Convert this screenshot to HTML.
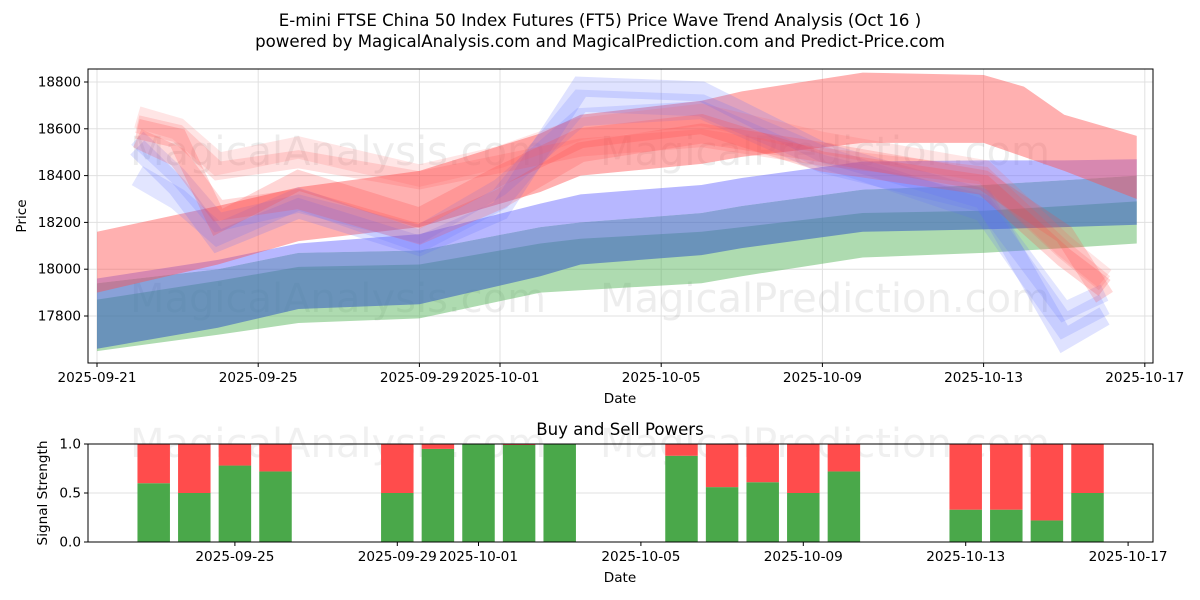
<!DOCTYPE html>
<html><head><meta charset="utf-8"><style>
body{margin:0;background:#fff;font-family:"DejaVu Sans","Liberation Sans",sans-serif;}
svg{display:block}
</style></head><body>
<svg id="c" width="1200" height="600" viewBox="0 0 1200 600" xmlns="http://www.w3.org/2000/svg">
<text x="600" y="26" text-anchor="middle" font-size="16.6" fill="#000">E-mini FTSE China 50 Index Futures (FT5) Price Wave Trend Analysis (Oct 16 )</text>
<text x="600" y="47" text-anchor="middle" font-size="16.6" fill="#000">powered by MagicalAnalysis.com and MagicalPrediction.com and Predict-Price.com</text>
<g id="main"></g>
<g id="sub"></g>
</svg>
<script>
// ---- data ----
const bandDates = ["09-21","09-24","09-26","09-29","10-02","10-03","10-06","10-07","10-10","10-13","10-14","10-15","10-16.8"];
const greenLow  = [17650,17720,17770,17790,17900,17910,17940,17970,18050,18070,18080,18090,18110];
const greenHigh = [17870,17950,18010,18020,18110,18130,18160,18180,18240,18250,18260,18270,18290];
const blueLow   = [17660,17750,17830,17850,17970,18020,18060,18090,18160,18170,18175,18180,18190];
const blueHigh  = [17940,18000,18070,18080,18180,18200,18240,18270,18340,18360,18370,18380,18400];
const lblueHigh = [17960,18040,18110,18150,18280,18320,18360,18390,18460,18465,18465,18465,18470];
const redLow    = [17900,18020,18120,18180,18330,18400,18450,18480,18540,18540,18480,18420,18300];
const redHigh   = [18160,18270,18350,18420,18580,18660,18720,18760,18840,18830,18780,18660,18570];
const waveDates = ["09-22","09-23","09-24","09-26","09-29","10-01","10-03","10-06","10-09","10-13","10-15","10-16"];
const redWave1  = [18600,18560,18200,18380,18220,18400,18560,18620,18460,18360,18050,17920];
const redWave2  = [18650,18600,18450,18520,18400,18480,18600,18660,18540,18420,18100,17960];
const redWave3  = [18560,18480,18250,18300,18150,18300,18500,18580,18500,18380,18150,17880];
const redWave4  = [18620,18580,18420,18470,18380,18450,18520,18560,18480,18400,18080,17940];
const blueWave1 = [18520,18350,18120,18260,18100,18250,18780,18760,18500,18300,17700,17800];
const blueWave2 = [18400,18300,18150,18300,18120,18300,18720,18700,18480,18250,17760,17850];
const blueWave3 = [18560,18400,18200,18280,18150,18350,18650,18680,18450,18280,17820,17900];
const barDates  = ["09-23","09-24","09-25","09-26","09-29","09-30","10-01","10-02","10-03","10-06","10-07","10-08","10-09","10-10","10-13","10-14","10-15","10-16"];
const buyPower  = [0.6,0.5,0.78,0.72,0.5,0.95,1.0,0.99,1.0,0.88,0.56,0.61,0.5,0.72,0.33,0.33,0.22,0.5];
const yTicks = [17800,18000,18200,18400,18600,18800];
const xTickLabels = ["2025-09-21","2025-09-25","2025-09-29","2025-10-01","2025-10-05","2025-10-09","2025-10-13","2025-10-17"];
const subYTicks = [0.0,0.5,1.0];

const NS="http://www.w3.org/2000/svg";
function mk(t,a,p){const e=document.createElementNS(NS,t);for(const k in a)e.setAttribute(k,a[k]);p.appendChild(e);return e;}
function dayNum(s){s=s.replace(/^2025-/,'');const [m,d]=s.split('-');return (m==="09"?0:30)+parseFloat(d)-21;}
const L=88,R=1153,T=69,B=363;
const xM=d=>97+dayNum(d)*40.3;
const yM=v=>316-(v-17800)*0.234;
const ST=444,SB=542;
const xS=d=>72.5+dayNum(d)*40.6;
const yS=v=>SB-v*(SB-ST);
const main=document.getElementById('main'), sub=document.getElementById('sub');
const FS=13.6;

yTicks.forEach(v=>{let g=mk('line',{x1:L,x2:R,y1:yM(v),y2:yM(v),stroke:'#e0e0e0','stroke-width':1},main);});
xTickLabels.forEach(s=>{let g=mk('line',{x1:xM(s),x2:xM(s),y1:T,y2:B,stroke:'#e0e0e0','stroke-width':1},main);});

[[130,165,"MagicalAnalysis.com"],[600,165,"MagicalPrediction.com"],[130,312,"MagicalAnalysis.com"],[600,312,"MagicalPrediction.com"]].forEach(w=>{let t=mk('text',{x:w[0],y:w[1],'font-size':40,fill:'#000','fill-opacity':0.07},main);t.textContent=w[2];});

function band(lo,hi,fill,op,name){
  let pts=bandDates.map((d,i)=>xM(d)+','+yM(hi[i]));
  for(let i=bandDates.length-1;i>=0;i--)pts.push(xM(bandDates[i])+','+yM(lo[i]));
  let p=mk('polygon',{points:pts.join(' '),fill:fill,'fill-opacity':op},main);
  
}
band(greenLow,greenHigh,'#4caf50',0.45,'green-band');
band(blueHigh,lblueHigh,'#7070ff',0.5,'light-blue-band');
band(blueLow,blueHigh,'#4068c0',0.62,'blue-band');
band(redLow,redHigh,'#ff5050',0.45,'red-band');

function wave(vals,col,op,w,name){
  let p=mk('polyline',{points:waveDates.map((d,i)=>xM(d)+','+yM(vals[i])).join(' '),fill:'none',stroke:col,'stroke-opacity':op,'stroke-width':w,'stroke-linejoin':'miter'},main);
  
}
wave(blueWave1,'#6070ff',0.2,20,'blue-wave');
wave(blueWave2,'#6070ff',0.18,22,'blue-wave');
wave(blueWave3,'#6070ff',0.18,18,'blue-wave');
wave(redWave1,'#ff4040',0.22,20,'red-wave');
wave(redWave2,'#ff6060',0.16,22,'red-wave');
wave(redWave3,'#ff4040',0.2,20,'red-wave');
wave(redWave4,'#ff5050',0.18,18,'red-wave');

let f=mk('rect',{x:L,y:T,width:R-L,height:B-T,fill:'none',stroke:'#000','stroke-width':1},main);
yTicks.forEach(v=>{mk('line',{x1:L-4,x2:L,y1:yM(v),y2:yM(v),stroke:'#000'},main);let t=mk('text',{x:L-7,y:yM(v)+4.5,'text-anchor':'end','font-size':FS},main);t.textContent=v;});
xTickLabels.forEach(s=>{mk('line',{x1:xM(s),x2:xM(s),y1:B,y2:B+4,stroke:'#000'},main);let t=mk('text',{x:xM(s),y:B+19,'text-anchor':'middle','font-size':FS},main);t.textContent=s;});
let xl=mk('text',{x:620,y:403,'text-anchor':'middle','font-size':FS},main);xl.textContent='Date';
let yl=mk('text',{x:26,y:216,'text-anchor':'middle','font-size':FS,transform:'rotate(-90 26 216)'},main);yl.textContent='Price';

let st=mk('text',{x:620,y:435,'text-anchor':'middle','font-size':16.6},sub);st.textContent='Buy and Sell Powers';
mk('line',{x1:L,x2:R,y1:yS(0.5),y2:yS(0.5),stroke:'#e0e0e0'},sub);
[[130,457,"MagicalAnalysis.com"],[600,457,"MagicalPrediction.com"]].forEach(w=>{let t=mk('text',{x:w[0],y:w[1],'font-size':40,fill:'#000','fill-opacity':0.06},sub);t.textContent=w[2];});
const bw=0.8*40.6;
barDates.forEach((d,i)=>{
  const cx=xS(d),v=buyPower[i];
  let g=mk('rect',{x:cx-bw/2,y:yS(v),width:bw,height:yS(0)-yS(v),fill:'#4aa84a'},sub);
  
  let r=mk('rect',{x:cx-bw/2,y:yS(1),width:bw,height:yS(v)-yS(1),fill:'#ff4c4c'},sub);
  
});
let sf=mk('rect',{x:L,y:ST,width:R-L,height:SB-ST,fill:'none',stroke:'#000'},sub);
subYTicks.forEach(v=>{mk('line',{x1:L-4,x2:L,y1:yS(v),y2:yS(v),stroke:'#000'},sub);let t=mk('text',{x:L-7,y:yS(v)+4.5,'text-anchor':'end','font-size':FS},sub);t.textContent=v.toFixed(1);});
xTickLabels.slice(1).forEach(s=>{mk('line',{x1:xS(s),x2:xS(s),y1:SB,y2:SB+4,stroke:'#000'},sub);let t=mk('text',{x:xS(s),y:SB+19,'text-anchor':'middle','font-size':FS},sub);t.textContent=s;});
let sxl=mk('text',{x:620,y:582,'text-anchor':'middle','font-size':FS},sub);sxl.textContent='Date';
let syl=mk('text',{x:47,y:493,'text-anchor':'middle','font-size':FS,transform:'rotate(-90 47 493)'},sub);syl.textContent='Signal Strength';
</script>
</body></html>
